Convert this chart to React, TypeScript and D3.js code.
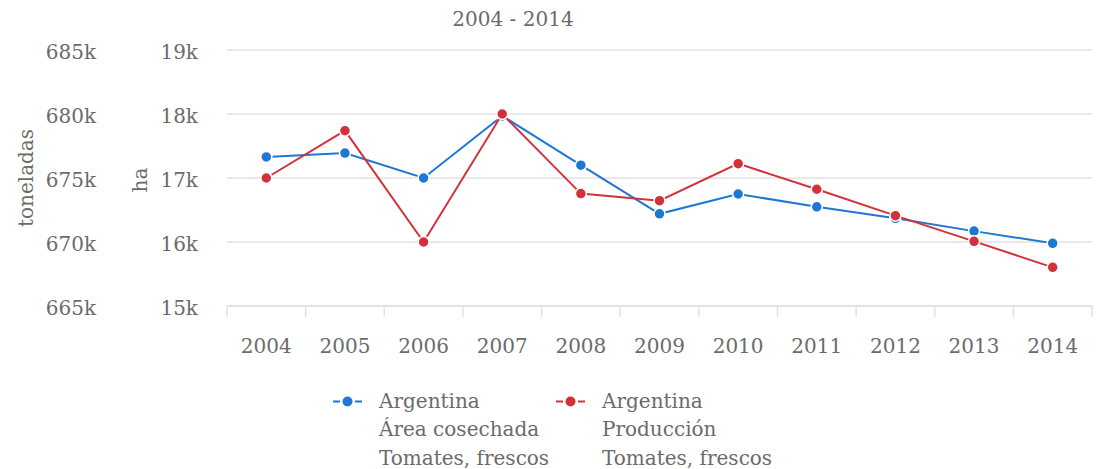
import React from "react";
import * as d3 from "d3";

const years = ["2004","2005","2006","2007","2008","2009","2010","2011","2012","2013","2014"];
const areaHa = [17330, 17390, 17000, 17970, 17200, 16440, 16750, 16550, 16370, 16170, 15980];
const prodTon = [675000, 678700, 670000, 680000, 673780, 673230, 676120, 674120, 672060, 670050, 668020];
const haTicks = [15000, 16000, 17000, 18000, 19000];
const tonTicks = [665000, 670000, 675000, 680000, 685000];
const title = "2004 - 2014";
const legendBlue = ["Argentina", "Área cosechada", "Tomates, frescos"];
const legendRed = ["Argentina", "Producción", "Tomates, frescos"];

const BLUE = "#1f77d4";
const RED = "#d3313a";
const TEXT = "#6b6b6b";
const GRID = "#e2e2e2";
const FONT = "'DejaVu Serif', serif";
const FS = 20;

export default function App() {
  const W = 1097, H = 469;
  const left = 227, right = 1092, top = 50, bottom = 306;
  const x = d3.scaleBand<string>().domain(years).range([left, right]).padding(0);
  const yHa = d3.scaleLinear().domain([15000, 19000]).range([bottom, top]);
  const yTon = d3.scaleLinear().domain([665000, 685000]).range([bottom, top]);
  const cx = (y: string) => (x(y) as number) + x.bandwidth() / 2;
  const fmtK = (v: number) => `${Math.round(v / 1000)}k`;

  const lineHa = d3.line<number>().x((_, i) => cx(years[i])).y((d) => yHa(d));
  const lineTon = d3.line<number>().x((_, i) => cx(years[i])).y((d) => yTon(d));

  const boundaries = years.map((y) => x(y) as number).concat([right]);

  const legendItem = (lx: number, color: string, lines: string[]) => (
    <g>
      <line x1={lx} x2={lx + 7} y1={401.5} y2={401.5} stroke={color} strokeWidth={2} />
      <line x1={lx + 22} x2={lx + 29} y1={401.5} y2={401.5} stroke={color} strokeWidth={2} />
      <circle cx={lx + 14.5} cy={401.5} r={5} fill={color} />
      {lines.map((t, i) => (
        <text key={i} x={lx + 46} y={408 + i * 28.3} fill={TEXT} fontSize={FS} fontFamily={FONT}>{t}</text>
      ))}
    </g>
  );

  return (
    <svg width={W} height={H} style={{ position: "absolute", left: 0, top: 0, background: "#fff" }}>
      <text x={513} y={26} textAnchor="middle" fill={TEXT} fontSize={FS} fontFamily={FONT}>{title}</text>
      {haTicks.slice(1).map((t) => (
        <line key={t} x1={left} x2={right} y1={yHa(t)} y2={yHa(t)} stroke={GRID} strokeWidth={1.5} />
      ))}
      <line x1={left} x2={right} y1={bottom} y2={bottom} stroke={GRID} strokeWidth={2} />
      {boundaries.map((b, i) => (
        <line key={i} x1={b} x2={b} y1={bottom} y2={bottom + 11} stroke={GRID} strokeWidth={1.5} />
      ))}
      {haTicks.map((t) => (
        <text key={t} x={198} y={yHa(t) + 9} textAnchor="end" fill={TEXT} fontSize={FS} fontFamily={FONT}>{fmtK(t)}</text>
      ))}
      {tonTicks.map((t) => (
        <text key={t} x={96} y={yTon(t) + 9} textAnchor="end" fill={TEXT} fontSize={FS} fontFamily={FONT}>{fmtK(t)}</text>
      ))}
      <text transform="translate(33,178) rotate(-90)" textAnchor="middle" fill={TEXT} fontSize={FS} fontFamily={FONT}>toneladas</text>
      <text transform="translate(147,180) rotate(-90)" textAnchor="middle" fill={TEXT} fontSize={FS} fontFamily={FONT}>ha</text>
      {years.map((y) => (
        <text key={y} x={cx(y)} y={352.5} textAnchor="middle" fill={TEXT} fontSize={FS} fontFamily={FONT}>{y}</text>
      ))}
      <path d={lineHa(areaHa) || ""} fill="none" stroke={BLUE} strokeWidth={2} />
      {areaHa.map((v, i) => (
        <circle key={i} cx={cx(years[i])} cy={yHa(v)} r={5.5} fill={BLUE} stroke="#fff" strokeWidth={1.5} />
      ))}
      <path d={lineTon(prodTon) || ""} fill="none" stroke={RED} strokeWidth={2} />
      {prodTon.map((v, i) => (
        <circle key={i} cx={cx(years[i])} cy={yTon(v)} r={5.5} fill={RED} stroke="#fff" strokeWidth={1.5} />
      ))}
      {legendItem(333, BLUE, legendBlue)}
      {legendItem(556, RED, legendRed)}
    </svg>
  );
}
